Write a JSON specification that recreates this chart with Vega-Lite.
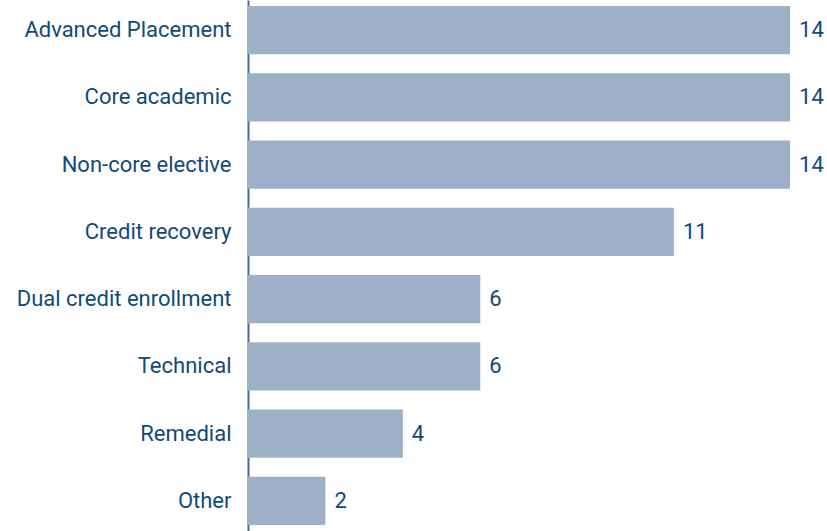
{
  "$schema": "https://vega.github.io/schema/vega-lite/v6.json",
  "width": 579,
  "height": 531,
  "autosize": {"type": "none"},
  "padding": {"left": 248, "top": 0, "right": 0, "bottom": 0},
  "background": "white",
  "config": {"view": {"stroke": null}},
  "data": {
    "values": [
      {"course": "Advanced Placement", "count": 14},
      {"course": "Core academic", "count": 14},
      {"course": "Non-core elective", "count": 14},
      {"course": "Credit recovery", "count": 11},
      {"course": "Dual credit enrollment", "count": 6},
      {"course": "Technical", "count": 6},
      {"course": "Remedial", "count": 4},
      {"course": "Other", "count": 2}
    ]
  },
  "encoding": {
    "y": {
      "field": "course",
      "type": "nominal",
      "sort": null,
      "scale": {"paddingInner": 0.285, "paddingOuter": 0.09},
      "axis": {
        "title": null,
        "ticks": false,
        "labelPadding": 17,
        "labelFont": "Roboto",
        "labelFontSize": 22,
        "labelColor": "#114a78",
        "labelLimit": 300,
        "domainColor": "#4a6d93",
        "domainWidth": 2
      }
    },
    "x": {
      "field": "count",
      "type": "quantitative",
      "scale": {"domain": [0, 14.955], "nice": false},
      "axis": null
    }
  },
  "layer": [
    {"mark": {"type": "bar", "color": "#9eb0c8"}},
    {
      "mark": {
        "type": "text",
        "align": "left",
        "baseline": "middle",
        "dx": 9,
        "font": "Roboto",
        "fontSize": 22,
        "color": "#114a78"
      },
      "encoding": {"text": {"field": "count", "type": "quantitative"}}
    }
  ]
}
